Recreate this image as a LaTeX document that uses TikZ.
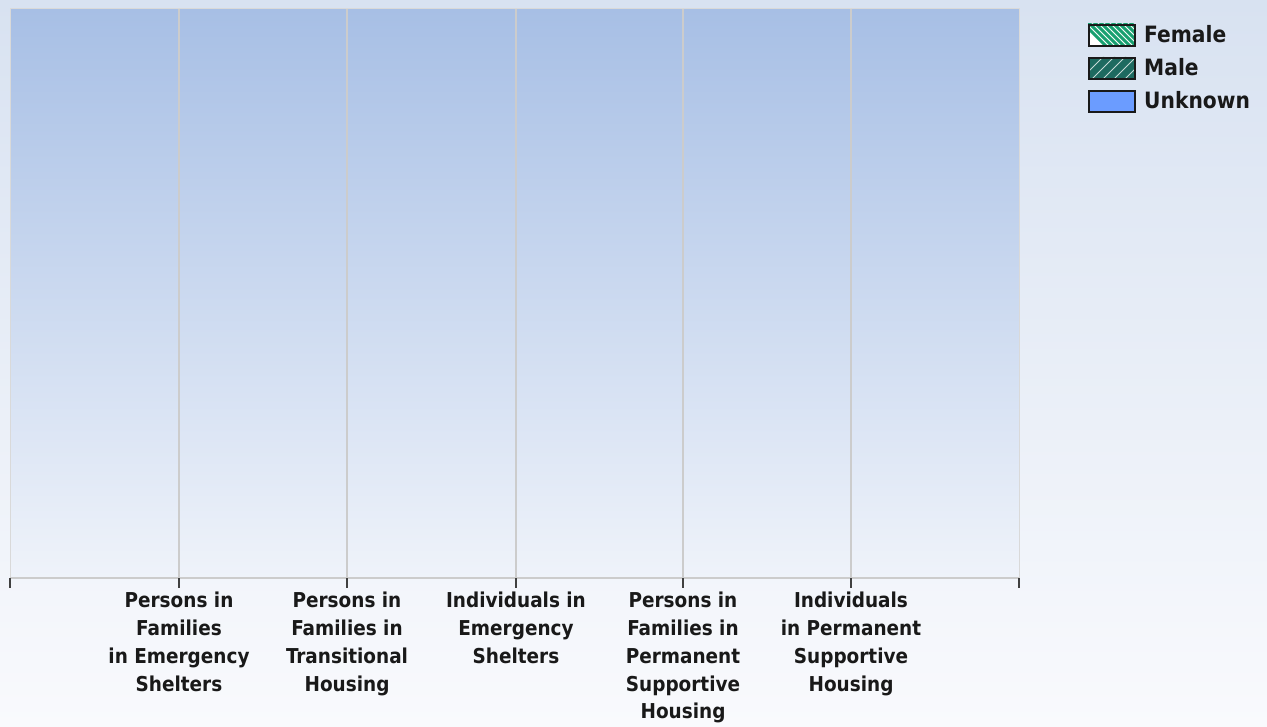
\documentclass[tikz,border=0pt]{standalone}
\usepackage{fontspec}
\setmainfont{DejaVu Sans Condensed}
\begin{document}
\begin{tikzpicture}[x=1pt,y=-1pt,
  lbl/.style={align=center,anchor=north,font=\bfseries\fontsize{20.5}{27.8}\selectfont,text=black!90,inner sep=0pt},
  leg/.style={anchor=west,font=\bfseries\fontsize{22.5}{24}\selectfont,text=black!90,inner sep=0pt},
  grid/.style={draw=black!20,line width=1.3pt},
  tick/.style={draw=black!75,line width=1.5pt},
  legbox/.style={draw=black!90,line width=1.8pt}]
\definecolor{bgtop}{HTML}{D8E2F1}
\definecolor{bgbot}{HTML}{F9FAFD}
\definecolor{pltop}{HTML}{A7BFE5}
\definecolor{plbot}{HTML}{EFF3FA}
\definecolor{fgreen}{HTML}{17A070}
\definecolor{mteal}{HTML}{1D6A60}
\definecolor{unk}{HTML}{6B9CFF}
\useasboundingbox (0,0) rectangle (1267,727);
\shade[top color=bgtop,bottom color=bgbot] (0,0) rectangle (1267,727);
% plot area
\shade[top color=pltop,bottom color=plbot] (10,9) rectangle (1019,578);
\draw[draw=black!15,line width=1pt] (10,578) -- (10,9) -- (1019,9) -- (1019,578);
\foreach \x/\n in {179/a,347/b,516/c,683/d,851/e}{
  \coordinate (g\n top) at (\x,9);
  \coordinate (g\n bot) at (\x,578);
  \draw[grid] (g\n top) -- (g\n bot);
}
\coordinate (axl) at (10,578);
\coordinate (axr) at (1019,578);
\draw[grid] (axl) -- (axr);
\foreach \x/\n in {10/l,179/a,347/b,516/c,683/d,851/e,1019/r}{
  \coordinate (t\n) at (\x,578);
  \coordinate (t\n b) at (\x,588);
  \draw[tick] (t\n) -- (t\n b);
}
% labels
\node[lbl] (la) at (179,592) {Persons in\\Families\\in Emergency\\Shelters};
\node[lbl] (lb) at (347,592) {Persons in\\Families in\\Transitional\\Housing};
\node[lbl] (lc) at (516,592) {Individuals in\\Emergency\\Shelters};
\node[lbl] (ld) at (683,592) {Persons in\\Families in\\Permanent\\Supportive\\Housing};
\node[lbl] (le) at (851,592) {Individuals\\in Permanent\\Supportive\\Housing};
% legend
\begin{scope}
  \clip (1088,24) rectangle (1134,45);
  \fill[white] (1088,24) rectangle (1134,45);
  \foreach \i in {0,...,10}{
    \draw[fgreen,line width=3pt] (1080+6*\i,20) -- +(28,28);
  }
\end{scope}
\node[legbox,minimum width=46pt,minimum height=21pt,inner sep=0pt,anchor=north west] (bf) at (1088,24) {};
\begin{scope}
  \clip (1088,57) rectangle (1134,78);
  \fill[mteal] (1088,57) rectangle (1134,78);
  \foreach \i in {0,...,6}{
    \draw[white!75!mteal,line width=0.9pt] (1078+11*\i,82) -- +(28,-28);
  }
\end{scope}
\node[legbox,minimum width=46pt,minimum height=21pt,inner sep=0pt,anchor=north west] (bm) at (1088,57) {};
\node[legbox,fill=unk,minimum width=46pt,minimum height=21pt,inner sep=0pt,anchor=north west] (bu) at (1088,90) {};
\node[leg] (tf) at (1144,34.5) {Female};
\node[leg] (tm) at (1144,67.5) {Male};
\node[leg] (tu) at (1144,100.5) {Unknown};
\end{tikzpicture}
\end{document}
